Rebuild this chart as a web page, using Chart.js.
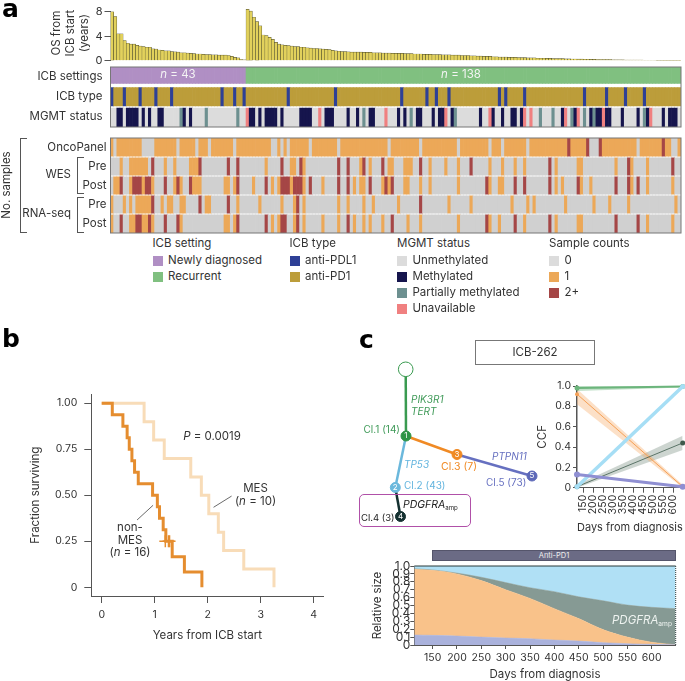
<!DOCTYPE html>
<html>
<head>
<meta charset="utf-8">
<script src="https://cdn.jsdelivr.net/npm/chart.js@4"></script>
<style>
html, body { margin: 0; padding: 0; background: #fff; }
#page { position: relative; width: 685px; height: 681px; overflow: hidden; font-family: Inter, sans-serif; color: #333; }
#page canvas { position: absolute; }
.t { position: absolute; white-space: nowrap; line-height: 1; }
.box { position: absolute; box-sizing: border-box; }
sub { font-size: 58%; vertical-align: -2px; line-height: 0; }
</style>
</head>
<body>
<div id="page"></div>
<script>
// panel a: overall survival, two groups sorted by decreasing value
const osNewly = [8.0,7.2,4.4,4.4,3.3,2.85,2.7,2.7,2.5,2.4,2.3,2.2,2.2,1.95,1.9,1.75,1.7,1.6,1.6,1.5,1.45,1.4,1.3,1.3,1.25,1.2,1.15,1.1,1.1,1.05,1.0,1.0,0.95,0.95,0.9,0.9,0.9,0.85,0.7,0.55,0.45,0.2,0.15];
const osRecurrent = [8.4,8.1,7.1,6.4,5.7,4.2,4.1,3.8,3.5,3.0,2.7,2.6,2.5,2.45,2.4,2.3,2.3,2.2,2.2,2.1,2.05,2.0,2.0,1.95,1.9,1.85,1.8,1.7,1.6,1.55,1.5,1.5,1.45,
  1.4,1.4,1.4,1.4,1.35,1.35,1.35,1.3,1.3,1.3,1.25,1.25,1.25,1.2,1.2,1.2,1.2,1.15,1.15,1.15,
  1.1,1.1,1.1,1.05,1.05,1.05,1.0,1.0,1.0,0.95,0.95,0.95,0.9,0.9,0.9,0.85,0.85,0.85,0.8,0.8,
  0.75,0.75,0.7,0.7,0.7,0.65,0.65,0.6,0.6,0.6,0.55,0.55,0.55,0.5,0.5,0.5,0.45,0.45,0.45,0.4,
  0.4,0.4,0.38,0.38,0.35,0.35,0.33,0.33,0.3,0.3,0.28,0.28,0.26,0.26,0.24,0.24,0.22,0.22,0.2,0.2,
  0.18,0.18,0.17,0.16,0.15,0.14,0.13,0.12,0.12,0.11,0.1,0.1,0.09,0.08,0.08,0.07,0.07,0.06,0.06,0.05,
  0.05,0.05,0.04,0.04,0.03];
const osTicks = [0, 4, 8];

// patient columns holding each non-default category
const antiPdl1 = [0,4,9,14,19,35,39,42,56,71,92,100,103,107,123,125,131,150,157,163,169];
const mgmtMethylated = [2,3,5,6,7,8,10,12,15,16,23,25,44,45,47,49,50,51,52,54,60,61,62,63,68,69,70,75,78,82,83,91,93,97,98,102,104,105,108,117,121,124,127,128,130,143,147,152,154,155,157,158,162,167,170,175,177,178,179];
const mgmtPartial = [22,30,40,80,95,109,136,140,146,150,153,169];
const mgmtUnavailable = [43,66,87,106,120,131,133,144,148,156,171];
const oncoZero = [1,10,11,12,13,21,27,31,39,51,52,54,56,63,72,88,98,110,120,124,132,152,153,154,167,178,179];
const oncoTwo = [145,151,155,175];
const wesPreOne = [3,6,7,8,9,10,11,17,20,25,26,27,49,57,58,61,79,82,88,89,93,94,95,101,106,110,120,124,128,131,141,148,149,160,165,170];
const wesPreTwo = [13,28,37,40,54,60,72,75,80,86,98,114,139,164,178];
const wesPostOne = [1,2,6,10,13,20,22,26,27,28,36,37,39,45,51,53,57,61,67,77,79,80,86,88,93,94,98,101,110,120,123,124,141,143,149,152,165,170,178];
const wesPostTwo = [3,7,8,9,11,12,17,21,25,40,49,54,55,56,58,59,60,63,72,75,82,87,89,119,128,131,139,148,160,164,167];
const rnaPreOne = [0,4,6,8,9,10,11,12,16,18,19,22,23,30,31,40,47,54,58,61,72,75,80,83,91,107,114,127,132,134,144,153,158,164,179];
const rnaPreTwo = [13,28,37,59,98];
const rnaPostOne = [0,6,7,10,11,13,22,36,37,39,51,53,58,61,67,72,77,80,82,86,94,98,110,120,123,131,141,148,149,170,178];
const rnaPostTwo = [3,8,9,12,17,21,40,49,54,55,59,75,89,119,128,139,160,167];

const clinicalTracks = ['ICB settings', 'ICB type', 'MGMT status'];
const sampleTracks = ['OncoPanel', 'Pre', 'Post', 'Pre', 'Post'];

// panel b: Kaplan-Meier event times and survival after the event
const mesYears = [0,0.8,0.98,1.18,1.68,1.88,2.02,2.2,2.3,2.68,3.25];
const mesSurvival = [1,0.9,0.8,0.7,0.6,0.5,0.4,0.3,0.2,0.1,0];
const nonMesYears = [0,0.2,0.4,0.48,0.52,0.57,0.62,0.69,0.96,1.05,1.09,1.16,1.21,1.33,1.56,1.89];
const nonMesSurvival = [1,0.9375,0.875,0.8125,0.75,0.6875,0.625,0.5625,0.5,0.4375,0.375,0.3125,0.25,0.1667,0.0833,0];
const censorYears = [1.2,1.26,1.28];
const censorSurvival = [0.25,0.25,0.25];
const kmXTicks = [0,1,2,3,4];
const kmYTicks = [0,0.25,0.5,0.75,1];
const kmYLabels = ['0','0.25','0.50','0.75','1.00'];

// panel c: clone tree layout
const treeX = [55.7,56,45.3,107,50.5,182];
const treeY = [19.3,86,137.5,104.5,166.5,126];
const treeEdges = [[0,1],[1,2],[1,3],[2,4],[3,5]];

// panel c: CCF between the two time points
const ccfDays = [118.5,647];
const ccfGreen = [0.98,0.995];
const ccfGreenHigh = [1.0,1.0];
const ccfGreenLow = [0.95,0.985];
const ccfOrange = [0.92,0.01];
const ccfOrangeHigh = [0.97,0.03];
const ccfOrangeLow = [0.82,0];
const ccfSky = [0.01,0.995];
const ccfDark = [0.01,0.44];
const ccfDarkHigh = [0.03,0.51];
const ccfDarkLow = [0,0.37];
const ccfPurple = [0.13,0.01];
const ccfXTicks = [150,200,250,300,350,400,450,500,550,600];
const ccfYTicks = [0,0.2,0.4,0.6,0.8,1];

// panel c: stacked clone sizes, upper edge of each layer
const sizeDays = [112,150,200,250,300,350,400,450,500,550,600,649];
const sizePurple = [0.127,0.122,0.114,0.10,0.089,0.08,0.063,0.05,0.03,0.017,0.008,0.003];
const sizeOrange = [0.958,0.945,0.9,0.815,0.70,0.59,0.46,0.335,0.195,0.1,0.035,0.003];
const sizeGrey = [0.965,0.95,0.91,0.857,0.79,0.725,0.675,0.61,0.56,0.505,0.477,0.46];
const sizeSky = [1,1,1,1,1,1,1,1,1,1,1,1];
const sizeXTicks = [150,200,250,300,350,400,450,500,550,600];
const sizeYTicks = [0,0.1,0.2,0.3,0.4,0.5,0.6,0.7,0.8,0.9,1];

const C = {
    text: '#333', axis: '#555', frame: '#777',
    purple: '#b08fc4', green: '#80c080', blue: '#2e4096', gold: '#bc9d3a',
    grey: '#dcdcdc', navy: '#16154d', teal: '#6d9090', pink: '#f08080',
    sampleGrey: '#d0d0d0', orange: '#eca858', red: '#a54646', bar: '#e2d15c'
};

Chart.defaults.font.family = 'Inter, sans-serif';
Chart.defaults.font.size = 11;
Chart.defaults.color = C.text;
Chart.defaults.animation = false;
Chart.defaults.responsive = false;
Chart.defaults.layout.autoPadding = false;
Chart.defaults.plugins.legend.display = false;
Chart.defaults.plugins.tooltip.enabled = false;

const page = document.getElementById('page');

function makeCanvas(left, top, width, height) {
    const c = document.createElement('canvas');
    c.width = width;
    c.height = height;
    c.style.left = left + 'px';
    c.style.top = top + 'px';
    c.style.width = width + 'px';
    c.style.height = height + 'px';
    page.appendChild(c);
    return c;
}

function label(html, x, y, opts) {
    opts = opts || {};
    const s = document.createElement('span');
    s.className = 't';
    s.innerHTML = html;
    s.style.left = x + 'px';
    s.style.top = y + 'px';
    s.style.fontSize = (opts.size || 11.5) + 'px';
    s.style.color = opts.color || C.text;
    if (opts.weight) s.style.fontWeight = opts.weight;
    if (opts.family) s.style.fontFamily = opts.family;
    if (opts.lh) s.style.lineHeight = opts.lh + 'px';
    if (opts.center) s.style.textAlign = 'center';
    const ax = opts.anchor === 'right' ? '-100%' : opts.anchor === 'center' ? '-50%' : '0';
    s.style.transform = 'translate(' + ax + ',-50%)' + (opts.rotate ? ' rotate(' + opts.rotate + 'deg)' : '');
    page.appendChild(s);
}

function box(x, y, w, h, css) {
    const d = document.createElement('div');
    d.className = 'box';
    d.style.left = x + 'px';
    d.style.top = y + 'px';
    d.style.width = w + 'px';
    d.style.height = h + 'px';
    d.style.cssText += css;
    page.appendChild(d);
}

// fixed axis box and no label overhang, so the plot area lands where the layout says
function fitWidth(w) {
    return s => { s.width = w; s.paddingTop = 0; s.paddingBottom = 0; };
}
function fitHeight(h) {
    return s => { s.height = h; s.paddingLeft = 0; s.paddingRight = 0; };
}

const frame = {
    id: 'frame',
    afterDatasetsDraw(chart) {
        const a = chart.chartArea, ctx = chart.ctx;
        ctx.save();
        ctx.strokeStyle = C.frame;
        ctx.lineWidth = 1;
        ctx.strokeRect(a.left, a.top, a.right - a.left, a.bottom - a.top);
        ctx.restore();
    }
};

// column colours for one row of the heat map
const columnLabels = osNewly.concat(osRecurrent).map((v, i) => i + 1);

function rowColors(base, overrides) {
    return columnLabels.map((l, i) => {
        for (const o of overrides) {
            if (o[0].includes(i)) return o[1];
        }
        return base;
    });
}

function heatChart(canvas, rows, colorsByRow, half, tickPadding) {
    new Chart(canvas, {
        type: 'bar',
        data: {
            labels: columnLabels,
            datasets: colorsByRow.map((colors, r) => ({
                data: columnLabels.map(() => [r - half[r][0], r + half[r][1]]),
                backgroundColor: colors,
                grouped: false,
                barPercentage: 1,
                categoryPercentage: 1
            }))
        },
        options: {
            layout: { padding: { top: 1, bottom: 1, right: 4 } },
            scales: {
                x: { display: false, offset: true },
                y: {
                    reverse: true,
                    min: -0.5,
                    max: rows.length - 0.5,
                    afterBuildTicks: s => { s.ticks = rows.map((n, i) => ({ value: i })); },
                    afterFit: fitWidth(110.5),
                    border: { display: false },
                    grid: { display: false, drawTicks: false },
                    ticks: { autoSkip: false, padding: tickPadding, font: { size: 11.5 }, callback: v => rows[v] }
                }
            }
        },
        plugins: [frame]
    });
}

// OS bars
new Chart(makeCanvas(0, 0, 685, 70), {
    type: 'bar',
    data: {
        labels: columnLabels,
        datasets: [{
            data: osNewly.concat(osRecurrent),
            backgroundColor: C.bar,
            borderColor: '#3a3a24',
            borderWidth: 0.45,
            barPercentage: 1,
            categoryPercentage: 1
        }]
    },
    options: {
        layout: { padding: { top: 5.6, bottom: 9.3, right: 4 } },
        scales: {
            x: { display: false, offset: true },
            y: {
                min: 0,
                max: 9,
                afterBuildTicks: s => { s.ticks = osTicks.map(v => ({ value: v })); },
                afterFit: fitWidth(110.5),
                border: { display: false },
                grid: { drawOnChartArea: false, tickLength: 6, tickColor: C.axis },
                ticks: { padding: 2, font: { size: 11 } },
                title: { display: true, text: ['OS from', 'ICB start', '(years)'], font: { size: 11.5 }, padding: { bottom: 6, top: 50 }, color: C.text }
            }
        }
    }
});

heatChart(makeCanvas(0, 65.5, 685, 62), clinicalTracks, [
    columnLabels.map((l, i) => i < osNewly.length ? C.purple : C.green),
    rowColors(C.gold, [[antiPdl1, C.blue]]),
    rowColors(C.grey, [[mgmtMethylated, C.navy], [mgmtPartial, C.teal], [mgmtUnavailable, C.pink]])
], [[0.5, 0.32], [0.47, 0.45], [0.45, 0.5]], 8);

heatChart(makeCanvas(0, 136.5, 685, 97), sampleTracks, [
    rowColors(C.orange, [[oncoZero, C.sampleGrey], [oncoTwo, C.red]]),
    rowColors(C.sampleGrey, [[wesPreOne, C.orange], [wesPreTwo, C.red]]),
    rowColors(C.sampleGrey, [[wesPostOne, C.orange], [wesPostTwo, C.red]]),
    rowColors(C.sampleGrey, [[rnaPreOne, C.orange], [rnaPreTwo, C.red]]),
    rowColors(C.sampleGrey, [[rnaPostOne, C.orange], [rnaPostTwo, C.red]])
], [[0.5, 0.45], [0.45, 0.45], [0.45, 0.45], [0.45, 0.45], [0.45, 0.5]], 4);

// Kaplan-Meier
function xy(xs, ys) {
    return xs.map((x, i) => ({ x: x, y: ys[i] }));
}

new Chart(makeCanvas(0, 385, 340, 260), {
    type: 'scatter',
    data: {
        datasets: [
            { data: xy(mesYears, mesSurvival), showLine: true, stepped: true, borderColor: '#f8dcb8', borderWidth: 3, pointRadius: 0, order: 3 },
            { data: xy(nonMesYears, nonMesSurvival), showLine: true, stepped: true, borderColor: '#e58d2f', borderWidth: 3, pointRadius: 0, order: 1 },
            { data: xy(censorYears, censorSurvival), pointStyle: 'cross', pointRadius: 6, pointBorderColor: '#e58d2f', pointBorderWidth: 1.5, order: 0 },
            { data: [{ x: 2.11, y: 0.435 }, { x: 2.45, y: 0.496 }], showLine: true, borderColor: '#444', borderWidth: 0.8, pointRadius: 0, order: 2 },
            { data: [{ x: 0.667, y: 0.366 }, { x: 0.969, y: 0.446 }], showLine: true, borderColor: '#444', borderWidth: 0.8, pointRadius: 0, order: 2 }
        ]
    },
    options: {
        layout: { padding: { top: 9.3, right: 16.7 } },
        scales: {
            x: {
                min: -0.196,
                max: 4.18,
                afterBuildTicks: s => { s.ticks = kmXTicks.map(v => ({ value: v })); },
                afterFit: fitHeight(49),
                border: { color: C.axis },
                grid: { drawOnChartArea: false, tickLength: 7, tickColor: C.axis },
                ticks: { padding: 6, font: { size: 10.5 } },
                title: { display: true, text: 'Years from ICB start', font: { size: 11.5 }, padding: { top: 6, bottom: 3 } }
            },
            y: {
                min: -0.047,
                max: 1.049,
                afterBuildTicks: s => { s.ticks = kmYTicks.map(v => ({ value: v })); },
                afterFit: fitWidth(91.3),
                border: { color: C.axis },
                grid: { drawOnChartArea: false, tickLength: 7, tickColor: C.axis },
                ticks: { padding: 7, font: { size: 10.5 }, callback: v => kmYLabels[kmYTicks.indexOf(v)] },
                title: { display: true, text: 'Fraction surviving', font: { size: 11.5 }, padding: { top: 29, bottom: 0 } }
            }
        }
    }
});

// clone tree
const edgeColors = ['#3a9a50', '#6bb8dc', '#f08a24', '#143030', '#6670c0'];
const nodeColors = ['#ffffff', '#2f9446', '#6bb8dc', '#f08a24', '#143030', '#5c68b8'];
const nodeText = ['', '1', '2', '3', '4', '5'];

new Chart(makeCanvas(350, 350, 210, 190), {
    type: 'scatter',
    data: {
        datasets: [{
            data: xy(treeX, treeY),
            pointRadius: treeX.map((x, i) => i === 0 ? 7.3 : 5),
            pointBackgroundColor: nodeColors,
            pointBorderColor: treeX.map((x, i) => i === 0 ? '#3a9a50' : nodeColors[i]),
            pointBorderWidth: 1
        }].concat(treeEdges.map((e, i) => ({
            data: [{ x: treeX[e[0]], y: treeY[e[0]] }, { x: treeX[e[1]], y: treeY[e[1]] }],
            showLine: true,
            borderColor: edgeColors[i],
            borderWidth: 2.5,
            pointRadius: 0
        })))
    },
    options: {
        scales: {
            x: { display: false, min: 0, max: 210 },
            y: { display: false, min: 0, max: 190, reverse: true }
        }
    },
    plugins: [{
        id: 'nodeNumbers',
        afterDatasetsDraw(chart) {
            const ctx = chart.ctx;
            ctx.save();
            ctx.font = '8px Inter, sans-serif';
            ctx.fillStyle = '#fff';
            ctx.textAlign = 'center';
            ctx.textBaseline = 'middle';
            treeX.forEach((x, i) => {
                ctx.fillText(nodeText[i], chart.scales.x.getPixelForValue(x), chart.scales.y.getPixelForValue(treeY[i]));
            });
            ctx.restore();
        }
    }]
});

// CCF lines with confidence bands, first dataset ends up on top
function band(ys, color, fill) {
    return { data: xy(ccfDays, ys), showLine: true, borderWidth: 0, pointRadius: 0, backgroundColor: color, fill: fill };
}
function ccfLine(ys, color, width, r) {
    return { data: xy(ccfDays, ys), showLine: true, borderColor: color, borderWidth: width, pointRadius: r, pointBackgroundColor: color, pointBorderWidth: 0, clip: false };
}

new Chart(makeCanvas(530, 370, 155, 170), {
    type: 'scatter',
    data: {
        datasets: [
            ccfLine(ccfPurple, '#8f8fd2', 3, 3),
            ccfLine(ccfSky, '#a6def5', 3.5, 2.5),
            ccfLine(ccfDark, '#3e5a4c', 0.8, 2.5),
            ccfLine(ccfOrange, '#f5a055', 1, 2),
            ccfLine(ccfGreen, '#6cb57c', 2, 2.5),
            band(ccfGreenHigh, 'rgba(80,170,100,0.35)', '+1'),
            band(ccfGreenLow, 'transparent', false),
            band(ccfOrangeHigh, 'rgba(245,165,95,0.35)', '+1'),
            band(ccfOrangeLow, 'transparent', false),
            band(ccfDarkHigh, 'rgba(90,115,100,0.3)', '+1'),
            band(ccfDarkLow, 'transparent', false)
        ]
    },
    options: {
        layout: { padding: { top: 16, right: 2.3 } },
        scales: {
            x: {
                min: 118.5,
                max: 647,
                afterBuildTicks: s => { s.ticks = ccfXTicks.map(v => ({ value: v })); },
                afterFit: fitHeight(52.3),
                border: { color: C.axis },
                grid: { drawOnChartArea: false, tickLength: 5, tickColor: C.axis },
                ticks: { autoSkip: false, minRotation: 90, maxRotation: 90, padding: 2, font: { size: 10.5 } },
                title: { display: true, text: 'Days from diagnosis', font: { size: 11 }, padding: { top: 2, bottom: 6 } }
            },
            y: {
                min: 0,
                max: 1,
                afterBuildTicks: s => { s.ticks = ccfYTicks.map(v => ({ value: v })); },
                afterFit: fitWidth(47),
                border: { color: C.axis, width: 1.5 },
                grid: { drawOnChartArea: false, tickLength: 4, tickColor: C.axis },
                ticks: { padding: 2, font: { size: 10.5 }, callback: v => v === 0 ? '0' : v.toFixed(1) },
                title: { display: true, text: 'CCF', font: { size: 11.5 }, padding: { top: 6, bottom: 0 } }
            }
        }
    }
});

// stacked clone sizes
function layer(ys, color, fill) {
    return { data: xy(sizeDays, ys), borderColor: color, borderWidth: 0.5, backgroundColor: color, fill: fill, pointRadius: 0, cubicInterpolationMode: 'monotone' };
}

new Chart(makeCanvas(360, 560, 325, 121), {
    type: 'line',
    data: {
        datasets: [
            layer(sizePurple, '#aab2dc', 'origin'),
            layer(sizeOrange, '#f9c28a', '-1'),
            layer(sizeGrey, '#869a94', '-1'),
            layer(sizeSky, '#b0e0f5', '-1')
        ]
    },
    options: {
        layout: { padding: { top: 6, right: 9.3 } },
        scales: {
            x: {
                type: 'linear',
                min: 112.3,
                max: 649.3,
                afterBuildTicks: s => { s.ticks = sizeXTicks.map(v => ({ value: v })); },
                afterFit: fitHeight(36),
                border: { color: C.axis },
                grid: { drawOnChartArea: false, tickLength: 4, tickColor: C.axis },
                ticks: { autoSkip: false, maxRotation: 0, padding: 3, font: { size: 10.5 } },
                title: { display: true, text: 'Days from diagnosis', font: { size: 11.5 }, padding: { top: 2, bottom: 0 } }
            },
            y: {
                min: 0,
                max: 1,
                afterBuildTicks: s => { s.ticks = sizeYTicks.map(v => ({ value: v })); },
                afterFit: fitWidth(54.3),
                border: { color: C.axis },
                grid: { drawOnChartArea: false, tickLength: 4, tickColor: C.axis },
                ticks: { autoSkip: false, padding: 0, font: { size: 12 }, callback: v => v === 0 ? '0' : v.toFixed(1) },
                title: { display: true, text: 'Relative size', font: { size: 11.5 }, padding: { top: 11, bottom: 0 } }
            }
        }
    },
    plugins: [{
        id: 'topLine',
        afterDatasetsDraw(chart) {
            const a = chart.chartArea, ctx = chart.ctx;
            ctx.save();
            ctx.strokeStyle = '#2b3a3a';
            ctx.lineWidth = 1;
            ctx.beginPath();
            ctx.moveTo(a.left, a.top);
            ctx.lineTo(a.right, a.top);
            ctx.stroke();
            ctx.setLineDash([1, 1]);
            ctx.beginPath();
            ctx.moveTo(a.right, a.top);
            ctx.lineTo(a.right, a.bottom);
            ctx.stroke();
            ctx.restore();
        }
    }]
});

// panel letters
const letterFont = { size: 25, weight: 800, color: '#000', family: 'DejaVu Sans, sans-serif' };
label('a', 2, 8, letterFont);
label('b', 2, 338, letterFont);
label('c', 359, 339, letterFont);

// panel a annotations
label('<i>n</i> = 43', 178, 75, { anchor: 'center', color: '#f4f4f4' });
label('<i>n</i> = 138', 461, 75, { anchor: 'center', color: '#f4f4f4' });
label('WES', 71, 175, { anchor: 'right' });
label('RNA-seq', 71, 214, { anchor: 'right' });
label('No. samples', 7, 185, { anchor: 'center', rotate: -90 });
box(19.5, 137.5, 7, 95, 'border:1px solid #555;border-right:none;');
box(77, 157, 7, 36.5, 'border:1px solid #555;border-right:none;');
box(77, 197, 7, 35.5, 'border:1px solid #555;border-right:none;');

// legends
const legends = [
    { title: 'ICB setting', x: 152.5, items: [['Newly diagnosed', C.purple], ['Recurrent', C.green]] },
    { title: 'ICB type', x: 289.5, items: [['anti-PDL1', C.blue], ['anti-PD1', C.gold]] },
    { title: 'MGMT status', x: 397, items: [['Unmethylated', C.grey], ['Methylated', C.navy], ['Partially methylated', C.teal], ['Unavailable', C.pink]] },
    { title: 'Sample counts', x: 549, items: [['0', C.grey], ['1', C.orange], ['2+', C.red]] }
];
legends.forEach(l => {
    label(l.title, l.x, 244.3);
    l.items.forEach((it, i) => {
        const y = 261 + i * 16;
        box(l.x, y - 5.2, 10.4, 10.4, 'background:' + it[1] + ';');
        label(it[0], l.x + 15.5, y);
    });
});

// panel b annotations
label('<i>P</i> = 0.0019', 212, 437, { anchor: 'center' });
label('MES<br>(<i>n</i> = 10)', 255.5, 494, { anchor: 'center', center: true, lh: 12.5 });
label('non-<br>MES<br>(<i>n</i> = 16)', 130, 540, { anchor: 'center', center: true, lh: 12.5 });

// panel c annotations
box(475, 340, 120, 25, 'border:1px solid #777;');
label('ICB-262', 535, 353, { anchor: 'center', size: 11.5 });
box(358.5, 493.5, 112.5, 33.5, 'border:1.5px solid #b050a8;border-radius:5px;');
label('<i>PIK3R1</i><br><i>TERT</i>', 411, 405, { color: '#3f9a58', size: 10, lh: 11.5 });
label('Cl.1 (14)', 400, 429, { anchor: 'right', color: '#3f9a58', size: 10 });
label('<i>TP53</i>', 404, 464, { color: '#62b4de', size: 10 });
label('Cl.2 (43)', 404, 485, { color: '#62b4de', size: 10 });
label('Cl.3 (7)', 441, 466.5, { color: '#f08a24', size: 10.5 });
label('<i>PTPN11</i>', 492, 456, { color: '#6670c0', size: 10 });
label('Cl.5 (73)', 486, 481.5, { color: '#6670c0', size: 10 });
label('<i>PDGFRA</i><sub>amp</sub>', 403, 505, { size: 10.5, color: '#222' });
label('Cl.4 (3)', 361, 518, { size: 9.5, color: '#222' });
box(432.3, 550.3, 243.4, 10.4, 'background:#6b6b85;border:1px solid #55556b;');
label('Anti-PD1', 554, 555.5, { anchor: 'center', size: 7.5, color: '#eee' });
label('<i>PDGFRA</i><sub>amp</sub>', 612, 621, { size: 11.5, color: '#eef3f0' });
</script>
</body>
</html>
